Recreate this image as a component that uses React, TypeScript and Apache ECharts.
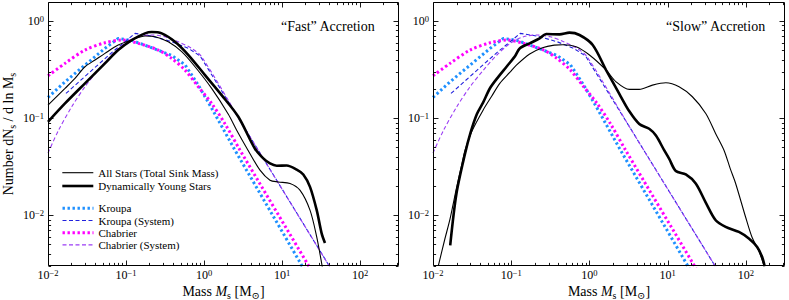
import React, { useEffect, useRef } from "react";
import * as echarts from "echarts";

const FONT = '"Liberation Serif", "DejaVu Serif", "Times New Roman", serif';

// Axis ranges
const X_MIN = 0.01;
const X_MAX = 316.2278;
const Y_MIN = 0.003;
const Y_MAX = 1.57;

const panelTitles = ["\u201cFast\u201d Accretion", "\u201cSlow\u201d Accretion"];
const legendGroup1 = ["All Stars (Total Sink Mass)", "Dynamically Young Stars"];
const legendGroup2 = ["Kroupa", "Kroupa (System)", "Chabrier", "Chabrier (System)"];
const xTickExponents = [-2, -1, 0, 1, 2];
const yTickExponents = [-2, -1, 0];
const minorMultipliers = [2, 3, 4, 5, 6, 7, 8, 9];

// All values below are log10(M_s / Msun) and log10(dN_s / d ln M_s).

// Reference IMFs (identical in both panels)
const kroupaLogM = [-2, -1.782, -1.526, -1.27, -1.1, -0.927, -0.67, -0.414, -0.244, -0.073, 0.1, 0.397, 1.252, 1.4];
const kroupaLogN = [-0.787, -0.626, -0.454, -0.282, -0.179, -0.2, -0.275, -0.355, -0.45, -0.66, -0.9, -1.33, -2.515, -2.72];

const kroupaSysLogM = [-1.77, -1.397, -1.183, -1.013, -0.885, -0.67, -0.414, -0.2, -0.05, 0.547, 1.6, 1.7];
const kroupaSysLogN = [-0.746, -0.478, -0.325, -0.213, -0.127, -0.155, -0.213, -0.282, -0.36, -1.136, -2.515, -2.645];

const chabrierLogM = [-2, -1.782, -1.526, -1.27, -1.055, -0.842, -0.586, -0.414, -0.244, -0.073, 0.098, 0.27, 0.462, 1.337, 1.45];
const chabrierLogN = [-0.564, -0.436, -0.299, -0.224, -0.196, -0.23, -0.299, -0.385, -0.505, -0.677, -0.849, -1.06, -1.33, -2.515, -2.67];

const chabrierSysLogM = [-2, -1.868, -1.696, -1.526, -1.355, -1.183, -1.013, -0.842, -0.67, -0.5, -0.33, -0.158, -0.03, 0.547, 1.6, 1.7];
const chabrierSysLogN = [-1.36, -1.13, -0.883, -0.677, -0.505, -0.35, -0.23, -0.162, -0.144, -0.162, -0.213, -0.282, -0.368, -1.136, -2.515, -2.645];

// "Fast" accretion
const fastAllLogM = [-2, -1.782, -1.654, -1.526, -1.397, -1.27, -1.1, -0.927, -0.756, -0.628, -0.458, -0.286, -0.115, 0.098, 0.312, 0.419, 0.564, 0.718, 0.846, 0.953, 1.103, 1.23, 1.359, 1.445, 1.509, 1.53];
const fastAllLogN = [-0.866, -0.694, -0.591, -0.471, -0.402, -0.333, -0.247, -0.196, -0.155, -0.162, -0.213, -0.316, -0.471, -0.694, -0.96, -1.124, -1.33, -1.536, -1.639, -1.657, -1.673, -1.742, -1.948, -2.224, -2.498, -2.6];

const fastYoungLogM = [-2, -1.782, -1.526, -1.27, -1.1, -0.927, -0.756, -0.67, -0.542, -0.372, -0.2, 0.013, 0.226, 0.44, 0.65, 0.76, 0.846, 0.932, 1.06, 1.188, 1.273, 1.359, 1.445, 1.509, 1.551];
const fastYoungLogN = [-1.038, -0.849, -0.642, -0.436, -0.299, -0.196, -0.127, -0.113, -0.127, -0.213, -0.35, -0.557, -0.763, -0.986, -1.31, -1.415, -1.467, -1.49, -1.488, -1.53, -1.58, -1.708, -1.948, -2.189, -2.285];

// "Slow" accretion
const slowAllLogM = [-1.93, -1.85, -1.783, -1.7, -1.63, -1.59, -1.5, -1.36, -1.25, -1.146, -1.019, -0.934, -0.764, -0.6, -0.45, -0.34, -0.17, 0.0, 0.213, 0.34, 0.51, 0.637, 0.806, 0.977, 1.146, 1.316, 1.487, 1.614, 1.72, 1.8, 1.869, 1.996, 2.08, 2.166, 2.23];
const slowAllLogN = [-2.515, -2.25, -2.04, -1.72, -1.47, -1.33, -1.13, -0.918, -0.775, -0.642, -0.53, -0.455, -0.34, -0.275, -0.248, -0.244, -0.265, -0.35, -0.505, -0.626, -0.704, -0.704, -0.66, -0.636, -0.677, -0.78, -0.952, -1.16, -1.33, -1.52, -1.673, -2.018, -2.23, -2.37, -2.515];

const slowYoungLogM = [-1.78, -1.7, -1.59, -1.52, -1.44, -1.36, -1.27, -1.16, -1.06, -0.95, -0.892, -0.764, -0.637, -0.552, -0.382, -0.255, -0.127, 0.042, 0.213, 0.382, 0.51, 0.637, 0.764, 0.85, 0.955, 1.02, 1.104, 1.232, 1.359, 1.487, 1.614, 1.741, 1.911, 2.038, 2.144, 2.208, 2.24];
const slowYoungLogN = [-2.31, -1.776, -1.364, -1.15, -0.96, -0.84, -0.69, -0.57, -0.471, -0.36, -0.282, -0.23, -0.179, -0.134, -0.137, -0.12, -0.144, -0.247, -0.505, -0.75, -0.93, -1.06, -1.11, -1.18, -1.33, -1.42, -1.545, -1.58, -1.673, -1.87, -2.052, -2.12, -2.172, -2.24, -2.327, -2.43, -2.526];

const KROUPA = "#1E90FF";
const KROUPA_SYS = "#2020dd";
const CHAB = "#FF00FF";
const CHAB_SYS = "#9b3df5";

const pairs = (lm: number[], ln: number[]) => lm.map((m, i) => [Math.pow(10, m), Math.pow(10, ln[i])]);

const powLabel = (v: number) => {
  const e = Math.log10(v);
  const r = Math.round(e);
  if (Math.abs(e - r) > 1e-6) return "";
  return `{b|10}{s|${r < 0 ? "\u2212" + Math.abs(r) : String(r)}}`;
};

const labelRich = {
  b: { fontFamily: FONT, fontSize: 12, lineHeight: 14, color: "#000" },
  s: { fontFamily: FONT, fontSize: 8.5, verticalAlign: "top", color: "#000" },
};

const nameRich = {
  t: { fontFamily: FONT, fontSize: 14, lineHeight: 18, color: "#000" },
  i: { fontFamily: FONT, fontSize: 14, lineHeight: 18, fontStyle: "italic", color: "#000" },
  u: { fontFamily: FONT, fontSize: 10, verticalAlign: "bottom", color: "#000" },
};

function frameTicks(params: any, api: any) {
  const cs = params.coordSys;
  const L = Math.round(cs.x) + 0.5;
  const T = Math.round(cs.y) + 0.5;
  const R = Math.round(cs.x + cs.width) - 0.5;
  const B = Math.round(cs.y + cs.height) - 0.5;
  const children: any[] = [];
  const st = { stroke: "#000", lineWidth: 0.9 };
  const xExps = [xTickExponents[0] - 1, ...xTickExponents];
  const yExps = [yTickExponents[0] - 1, ...yTickExponents];
  const addX = (v: number, len: number) => {
    if (v < X_MIN * 0.999 || v > X_MAX) return;
    const x = Math.round(api.coord([v, 0.1])[0]) + 0.5;
    children.push({ type: "line", shape: { x1: x, y1: B, x2: x, y2: B - len }, style: st });
    children.push({ type: "line", shape: { x1: x, y1: T, x2: x, y2: T + len }, style: st });
  };
  const addY = (v: number, len: number) => {
    if (v < Y_MIN * 0.999 || v > Y_MAX) return;
    const y = Math.round(api.coord([1, v])[1]) + 0.5;
    children.push({ type: "line", shape: { x1: L, y1: y, x2: L + len, y2: y }, style: st });
    children.push({ type: "line", shape: { x1: R, y1: y, x2: R - len, y2: y }, style: st });
  };
  for (const e of xExps) {
    addX(Math.pow(10, e), 5);
    for (const m of minorMultipliers) addX(m * Math.pow(10, e), 2.6);
  }
  for (const e of yExps) {
    addY(Math.pow(10, e), 5);
    for (const m of minorMultipliers) addY(m * Math.pow(10, e), 2.6);
  }
  children.push({
    type: "rect",
    shape: { x: L, y: T, width: R - L, height: B - T },
    style: { fill: "none", stroke: "#000", lineWidth: 1 },
  });
  return { type: "group", children };
}

function lineSeries(name: string, data: number[][], gi: number, color: string, width: number, type: any, smooth: any, z: number) {
  return {
    type: "line",
    name,
    data,
    xAxisIndex: gi,
    yAxisIndex: gi,
    symbol: "none",
    showSymbol: false,
    smooth,
    silent: true,
    z,
    lineStyle: { color, width, type, cap: "butt" },
    itemStyle: { color },
    emphasis: { disabled: true },
  };
}

function buildOption() {
  const grids = [
    { left: 48, top: 2, width: 351, height: 264, outerBoundsMode: "none", containLabel: false },
    { left: 433, top: 2, width: 352, height: 264, outerBoundsMode: "none", containLabel: false },
  ];
  const xAxes = [0, 1].map((gi) => ({
    type: "log",
    logBase: 10,
    gridIndex: gi,
    min: X_MIN,
    max: X_MAX,
    axisLine: { show: false },
    axisTick: { show: false },
    minorTick: { show: false },
    splitLine: { show: false },
    axisLabel: { formatter: powLabel, rich: labelRich, margin: 2, color: "#000", hideOverlap: false },
    name: "{t|Mass }{i|M}{u|s}{t| [M}{u|\u2299}{t|]}",
    nameLocation: "middle",
    nameGap: 16,
    nameMoveOverlap: false,
    nameTextStyle: { rich: nameRich, color: "#000" },
  }));
  const yAxes = [0, 1].map((gi) => ({
    type: "log",
    logBase: 10,
    gridIndex: gi,
    min: Y_MIN,
    max: Y_MAX,
    axisLine: { show: false },
    axisTick: { show: false },
    minorTick: { show: false },
    splitLine: { show: false },
    axisLabel: { formatter: powLabel, rich: labelRich, margin: 4, color: "#000", hideOverlap: false },
    name: gi === 0 ? "{t|Number dN}{u|s}{t| / d ln M}{u|s}" : "",
    nameLocation: "middle",
    nameGap: 31,
    nameMoveOverlap: false,
    nameTextStyle: { rich: nameRich, color: "#000" },
  }));

  const panels = [
    { all: pairs(fastAllLogM, fastAllLogN), young: pairs(fastYoungLogM, fastYoungLogN) },
    { all: pairs(slowAllLogM, slowAllLogN), young: pairs(slowYoungLogM, slowYoungLogN) },
  ];

  const series: any[] = [];
  panels.forEach((p, gi) => {
    series.push(lineSeries("Kroupa", pairs(kroupaLogM, kroupaLogN), gi, KROUPA, 3, [2.4, 2.6], false, 2));
    series.push(lineSeries("Chabrier", pairs(chabrierLogM, chabrierLogN), gi, CHAB, 3, [2.4, 2.6], 0.3, 2));
    series.push(lineSeries("Kroupa (System)", pairs(kroupaSysLogM, kroupaSysLogN), gi, KROUPA_SYS, 1.1, [4, 2.5], false, 3));
    series.push(lineSeries("Chabrier (System)", pairs(chabrierSysLogM, chabrierSysLogN), gi, CHAB_SYS, 1.1, [4, 2.5], 0.3, 3));
    series.push(lineSeries(legendGroup1[0], p.all, gi, "#000", 1.1, "solid", 0.3, 4));
    series.push(lineSeries(legendGroup1[1], p.young, gi, "#000", 2.6, "solid", 0.3, 5));
    series.push({
      type: "custom",
      xAxisIndex: gi,
      yAxisIndex: gi,
      data: [[1, 0.1]],
      renderItem: frameTicks,
      silent: true,
      clip: false,
      z: 10,
    });
  });

  const legendCommon = {
    orient: "vertical",
    left: 61,
    itemWidth: 31,
    itemHeight: 8,
    padding: 0,
    selectedMode: false,
    textStyle: { fontFamily: FONT, fontSize: 11, color: "#000", lineHeight: 12 },
    itemStyle: { opacity: 0, borderWidth: 0 },
    lineStyle: { width: "inherit", type: "inherit" },
  };

  return {
    animation: false,
    backgroundColor: "#fff",
    textStyle: { fontFamily: FONT },
    title: [
      { text: panelTitles[0], left: 281, top: 19, padding: 0, textStyle: { fontFamily: FONT, fontSize: 14, fontWeight: "normal", color: "#000" } },
      { text: panelTitles[1], left: 666, top: 19, padding: 0, textStyle: { fontFamily: FONT, fontSize: 14, fontWeight: "normal", color: "#000" } },
    ],
    legend: [
      { ...legendCommon, data: legendGroup1, top: 166.7, itemGap: 1.3 },
      { ...legendCommon, data: legendGroup2, top: 202.3, itemGap: 0.2 },
    ],
    grid: grids,
    xAxis: xAxes,
    yAxis: yAxes,
    series,
  };
}

export default function App() {
  const ref = useRef<HTMLDivElement>(null);
  useEffect(() => {
    if (!ref.current) return;
    const chart = echarts.init(ref.current, null, { renderer: "svg" });
    chart.setOption(buildOption() as any);
    return () => chart.dispose();
  }, []);
  return (
    <div
      ref={ref}
      style={{ position: "fixed", left: 0, top: 0, width: 789, height: 300, background: "#fff" }}
    />
  );
}
